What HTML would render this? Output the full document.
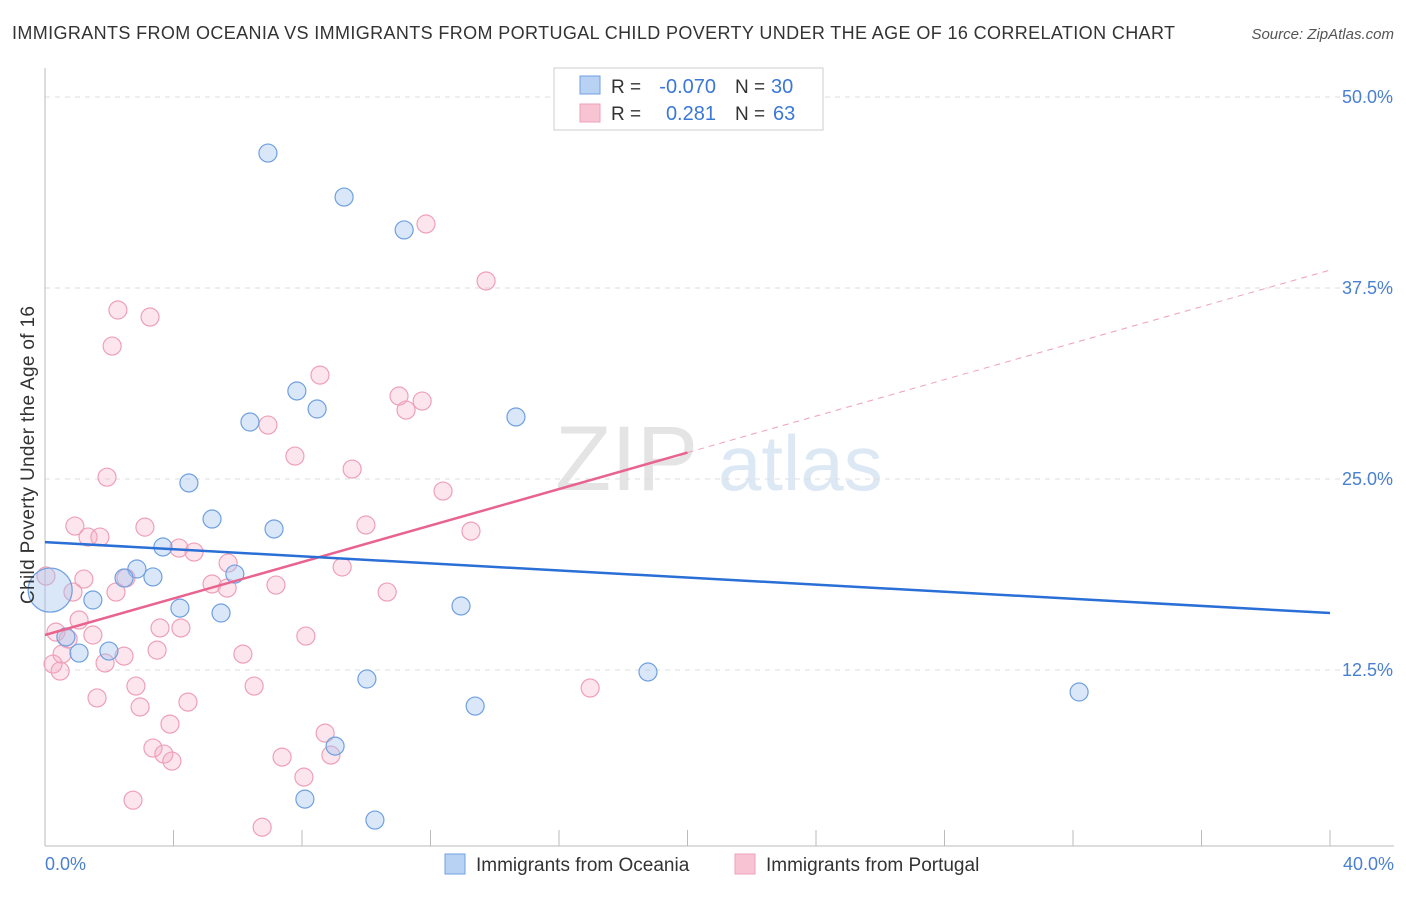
<!DOCTYPE html>
<html><head><meta charset="utf-8"><style>
body{margin:0;background:#fff;font-family:"Liberation Sans",sans-serif;}
svg text{font-family:"Liberation Sans",sans-serif;}
</style></head><body>
<svg id="chart" width="1406" height="892">
<text x="12" y="39" font-size="18" fill="#333" textLength="1163">IMMIGRANTS FROM OCEANIA VS IMMIGRANTS FROM PORTUGAL CHILD POVERTY UNDER THE AGE OF 16 CORRELATION CHART</text>
<text x="1394" y="39" font-size="15" fill="#555" text-anchor="end" font-style="italic">Source: ZipAtlas.com</text>
<text x="555" y="490" font-size="92" fill="#e4e4e4" font-family="Liberation Serif">ZIP</text>
<text x="718" y="490" font-size="78" fill="#dde8f5">atlas</text>
<g id="grid"></g>
<g id="axes"></g>
<g id="pts"></g>
<g id="lines"></g>
<text transform="translate(34,455) rotate(-90)" font-size="19" fill="#333" textLength="298" text-anchor="middle">Child Poverty Under the Age of 16</text>
<text x="45" y="870" font-size="18" fill="#4a80d0">0.0%</text>
<text x="1394" y="870" font-size="18" fill="#4a80d0" text-anchor="end">40.0%</text>
<g>
<rect x="554" y="68" width="269" height="62" fill="#fff" stroke="#ccc"/>
<rect x="580" y="76" width="20" height="18" fill="#b8d2f4" stroke="#6fa0e0"/>
<rect x="580" y="104" width="20" height="18" fill="#f8c4d4" stroke="#eea0b8"/>
<text x="611" y="93" font-size="19" fill="#333">R =</text>
<text x="716" y="93" font-size="20" fill="#3a78d8" text-anchor="end">-0.070</text>
<text x="735" y="93" font-size="19" fill="#333">N =</text>
<text x="771" y="93" font-size="20" fill="#3a78d8">30</text>
<text x="611" y="120" font-size="19" fill="#333">R =</text>
<text x="716" y="120" font-size="20" fill="#3a78d8" text-anchor="end">0.281</text>
<text x="735" y="120" font-size="19" fill="#333">N =</text>
<text x="773" y="120" font-size="20" fill="#3a78d8">63</text>
</g>
<g><rect x="445" y="854" width="20" height="20" fill="#b8d2f4" stroke="#6fa0e0"/><text x="476" y="871" font-size="19" fill="#333">Immigrants from Oceania</text></g>
<g><rect x="735" y="854" width="20" height="20" fill="#f8c4d4" stroke="#eea0b8"/><text x="766" y="871" font-size="19" fill="#333">Immigrants from Portugal</text></g>
</svg>
<script>
const yTicks=[12.5,25,37.5,50];
const yTickLabels=["12.5%","25.0%","37.5%","50.0%"];
const oceaniaX=[6.94,9.31,11.18,7.84,8.47,6.38,14.66,4.48,5.20,7.13,3.67,2.86,2.46,3.36,5.91,1.49,4.20,5.48,12.95,0.65,1.06,1.99,10.02,18.77,13.39,32.19,9.03,8.09,10.27,0.16];
const oceaniaY=[46.33,43.45,41.30,30.76,29.58,28.73,29.06,24.74,22.38,21.73,20.55,19.11,18.52,18.59,18.78,17.08,16.55,16.23,16.69,14.66,13.61,13.74,11.91,12.37,10.14,11.06,7.52,4.05,2.68,17.73];
const oceaniaR=[9,9,9,9,9,9,9,9,9,9,9,9,9,9,9,9,9,9,9,9,9,9,9,9,9,9,9,9,9,22];
const portugalX=[11.86,13.73,2.27,3.27,2.09,8.56,11.02,11.74,11.24,6.94,7.78,9.56,1.93,12.39,3.11,0.93,9.99,13.26,1.34,1.71,4.17,4.64,5.70,9.25,0.03,1.21,2.52,5.20,7.19,0.87,2.21,5.67,10.65,1.06,3.58,4.23,8.12,0.34,1.49,0.72,0.53,3.49,6.16,2.46,1.87,0.25,0.47,2.83,6.51,16.97,1.62,4.45,2.96,3.89,8.72,3.36,3.70,3.95,7.38,8.90,8.06,2.74,6.76];
const portugalY=[41.69,37.96,36.06,35.60,33.70,31.80,30.43,30.10,29.51,28.53,26.50,25.65,25.12,24.21,21.85,21.92,21.99,21.59,21.20,21.20,20.48,20.22,19.50,19.24,18.65,18.45,18.52,18.13,18.06,17.60,17.60,17.86,17.60,15.77,15.25,15.25,14.72,14.98,14.79,14.53,13.54,13.80,13.54,13.41,12.96,12.89,12.43,11.45,11.45,11.32,10.67,10.40,10.08,8.96,8.37,7.39,7.00,6.54,6.80,6.93,5.49,3.98,2.21];
const oceaniaTrend=[20.87,16.23];
const portugalTrend=[14.79,38.67];
const portugalSolidEnd=20;
const NS="http://www.w3.org/2000/svg";
const X=v=>45+v/40*1285;
const Y=v=>97+(50-v)/12.5*191;
function mk(tag,at,parent){const e=document.createElementNS(NS,tag);for(const k in at)e.setAttribute(k,at[k]);document.getElementById(parent).appendChild(e);return e;}
yTicks.forEach((t,i)=>{
 const l=mk('line',{x1:45,x2:1394,y1:Y(t),y2:Y(t),stroke:'#ddd','stroke-dasharray':'5,5'},'grid');
 
 
 const tx=mk('text',{x:1393,y:Y(t)+6,'font-size':18,fill:'#4a80d0','text-anchor':'end'},'grid');
 tx.textContent=yTickLabels[i];
 
 
});
const ax=mk('line',{x1:45,x2:45,y1:68,y2:846,stroke:'#bbb'},'axes');


const bx=mk('line',{x1:45,x2:1394,y1:846,y2:846,stroke:'#bbb'},'axes');


for(let i=1;i<=10;i++){const t=mk('line',{x1:X(i*4),x2:X(i*4),y1:830,y2:846,stroke:'#bbb'},'axes');
 
 }
portugalX.forEach((v,i)=>{const c=mk('circle',{cx:X(v),cy:Y(portugalY[i]),r:9,fill:'rgba(245,170,195,0.3)',stroke:'#eea0b8','stroke-width':1.2},'pts');
 
 });
oceaniaX.forEach((v,i)=>{const c=mk('circle',{cx:X(v),cy:Y(oceaniaY[i]),r:oceaniaR[i],fill:'rgba(160,195,240,0.4)',stroke:'#6fa0e0','stroke-width':1.2},'pts');
 
 });
const ps=v=>portugalTrend[0]+(portugalTrend[1]-portugalTrend[0])*v/40;
const pl=mk('line',{x1:X(0),y1:Y(portugalTrend[0]),x2:X(portugalSolidEnd),y2:Y(ps(portugalSolidEnd)),stroke:'#e8648f','stroke-width':2.5},'lines');


const pd=mk('line',{x1:X(portugalSolidEnd),y1:Y(ps(portugalSolidEnd)),x2:X(40),y2:Y(portugalTrend[1]),stroke:'#eea0b8','stroke-width':1,'stroke-dasharray':'6,5'},'lines');


const ol=mk('line',{x1:X(0),y1:Y(oceaniaTrend[0]),x2:X(40),y2:Y(oceaniaTrend[1]),stroke:'#2a6fd6','stroke-width':2.5},'lines');


</script>
</body></html>
